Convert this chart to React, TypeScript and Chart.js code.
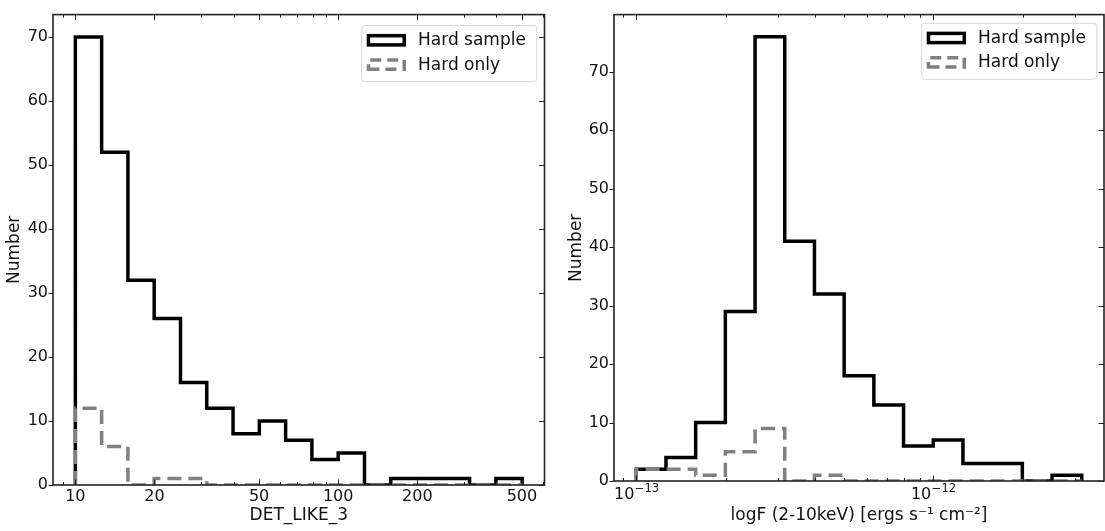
import React, { useEffect, useRef } from 'react';
import { Chart, registerables } from 'chart.js';

Chart.register(...registerables);

// ---------- Left panel: DET_LIKE_3 ----------
const detEdges = [10, 12.59, 15.85, 19.95, 25.12, 31.62, 39.81, 50.12, 63.1, 79.43, 100, 125.9, 158.5, 199.5, 251.2, 316.2, 398.1, 501.2];
const detHardSample = [70, 52, 32, 26, 16, 12, 8, 10, 7, 4, 5, 0, 1, 1, 1, 0, 1];
const detHardOnly = [12, 6, 0, 1, 1, 0, 0, 0, 0, 0, 0, 0, 0, 0, 0, 0, 0];
const detMajorTicks = [10, 20, 50, 100, 200, 500];
const detTickLabels = ['10', '20', '50', '100', '200', '500'];
const detMinorTicks = [9, 30, 40, 60, 70, 80, 90, 300, 400, 600];
const detRange = [8.222, 609.5];
const detYMax = 73.5;

// ---------- Right panel: flux ----------
const fluxEdges = [1e-13, 1.259e-13, 1.585e-13, 1.995e-13, 2.512e-13, 3.162e-13, 3.981e-13, 5.012e-13, 6.31e-13, 7.943e-13, 1e-12, 1.259e-12, 1.585e-12, 1.995e-12, 2.512e-12, 3.162e-12];
const fluxHardSample = [2, 4, 10, 29, 76, 41, 32, 18, 13, 6, 7, 3, 3, 0, 1];
const fluxHardOnly = [2, 2, 1, 5, 9, 0, 1, 0, 0, 0, 0, 0, 0, 0, 0];
const fluxMajorTicks = [1e-13, 1e-12];
const fluxTickBase = ['10', '10'];
const fluxTickExp = ['\u221213', '\u221212'];
const fluxMinorTicks = [9e-14, 2e-13, 3e-13, 4e-13, 5e-13, 6e-13, 7e-13, 8e-13, 9e-13, 2e-12, 3e-12];
const fluxRange = [8.414e-14, 3.758e-12];
const fluxYMax = 79.8;

const yTicks = [0, 10, 20, 30, 40, 50, 60, 70];
const legendLabels = ['Hard sample', 'Hard only'];

const FONT = '"DejaVu Sans", "Liberation Sans", sans-serif';
const TEXT = '#111111';
const FRAME = '#222222';

function stepPoints(edges: number[], counts: number[]) {
  const pts: { x: number; y: number }[] = [{ x: edges[0], y: 0 }];
  counts.forEach((c, i) => pts.push({ x: edges[i], y: c }));
  pts.push({ x: edges[edges.length - 1], y: counts[counts.length - 1] });
  pts.push({ x: edges[edges.length - 1], y: 0 });
  return pts;
}

type Cfg = {
  xMajor: number[];
  xMinor: number[];
  legendTop: number;
  legendRight: number;
  supBase?: string[];
  supExp?: string[];
};

function makeDecor(cfg: Cfg) {
  return {
    id: 'decor',
    afterDraw(chart: any) {
      const { ctx, chartArea: a } = chart;
      const xs = chart.scales.x;
      const ys = chart.scales.y;
      ctx.save();
      ctx.strokeStyle = FRAME;
      ctx.lineWidth = 1;
      const line = (x0: number, y0: number, x1: number, y1: number) => {
        ctx.beginPath();
        ctx.moveTo(x0, y0);
        ctx.lineTo(x1, y1);
        ctx.stroke();
      };
      const xTick = (v: number, len: number) => {
        const px = Math.round(xs.getPixelForValue(v)) + 0.5;
        if (px < a.left - 0.5 || px > a.right + 0.5) return;
        line(px, a.bottom, px, a.bottom - len);
        line(px, a.top, px, a.top + len);
      };
      cfg.xMajor.forEach((v) => xTick(v, 5.5));
      cfg.xMinor.forEach((v) => xTick(v, 3));
      yTicks.forEach((v) => {
        const py = Math.round(ys.getPixelForValue(v)) + 0.5;
        line(a.left - 4.5, py, a.left, py);
        line(a.right - 5.5, py, a.right, py);
      });
      // frame
      ctx.lineWidth = 1.6;
      ctx.strokeRect(a.left, a.top, a.right - a.left, a.bottom - a.top);

      // superscript tick labels (10^n)
      if (cfg.supBase && cfg.supExp) {
        ctx.fillStyle = TEXT;
        ctx.textBaseline = 'alphabetic';
        ctx.textAlign = 'left';
        cfg.xMajor.forEach((v, i) => {
          const px = xs.getPixelForValue(v);
          ctx.font = '16px ' + FONT;
          const wb = ctx.measureText(cfg.supBase![i]).width;
          ctx.font = '11.5px ' + FONT;
          const we = ctx.measureText(cfg.supExp![i]).width;
          const x0 = px - (wb + we) / 2;
          ctx.font = '16px ' + FONT;
          ctx.fillText(cfg.supBase![i], x0, a.bottom + 17.5);
          ctx.font = '11.5px ' + FONT;
          ctx.fillText(cfg.supExp![i], x0 + wb + 0.5, a.bottom + 10.8);
        });
      }

      // legend
      const w = 175;
      const h = 56;
      const lx = a.right - cfg.legendRight - w;
      const ly = a.top + cfg.legendTop;
      ctx.beginPath();
      ctx.roundRect(lx, ly, w, h, 3);
      ctx.fillStyle = 'rgba(255,255,255,0.85)';
      ctx.fill();
      ctx.strokeStyle = 'rgba(204,204,204,0.8)';
      ctx.lineWidth = 1;
      ctx.stroke();

      const rows = [ly + 14.7, ly + 39];
      const sw = 39.3;
      const sh = 12.7;
      const lw = 3.5;
      ctx.strokeStyle = '#000000';
      ctx.lineWidth = lw;
      ctx.setLineDash([]);
      ctx.strokeRect(lx + 5 + lw / 2, rows[0] - sh / 2 + lw / 2, sw - lw, sh - lw);
      ctx.strokeStyle = '#808080';
      ctx.setLineDash([11, 6]);
      const gx0 = lx + 5 + lw / 2;
      const gx1 = lx + 5 + sw - lw / 2;
      const gy0 = rows[1] - sh / 2 + lw / 2;
      const gy1 = rows[1] + sh / 2 - lw / 2;
      ctx.beginPath();
      ctx.moveTo(gx0, gy1);
      ctx.lineTo(gx1, gy1);
      ctx.lineTo(gx1, gy0);
      ctx.lineTo(gx0, gy0);
      ctx.closePath();
      ctx.stroke();
      ctx.setLineDash([]);

      ctx.fillStyle = TEXT;
      ctx.font = '17px ' + FONT;
      ctx.textBaseline = 'middle';
      ctx.textAlign = 'left';
      legendLabels.forEach((t, i) => ctx.fillText(t, lx + 56.3, rows[i] + 0.5));
      ctx.restore();
    },
  };
}

type PanelProps = {
  left: number;
  width: number;
  edges: number[];
  sample: number[];
  only: number[];
  range: number[];
  yMax: number;
  major: number[];
  labels?: string[];
  supBase?: string[];
  supExp?: string[];
  minor: number[];
  xTitle: string;
  pad: { top: number; right: number };
  yAxisWidth: number;
  xAxisHeight: number;
  yTitlePad: number;
  xTickPad: number;
  legendTop: number;
  legendRight: number;
};

function Panel(p: PanelProps) {
  const ref = useRef<HTMLCanvasElement>(null);
  useEffect(() => {
    if (!ref.current) return;
    const chart = new Chart(ref.current, {
      type: 'line',
      data: {
        datasets: [
          {
            label: legendLabels[1],
            data: stepPoints(p.edges, p.only),
            borderColor: '#808080',
            borderWidth: 3.5,
            borderDash: [14, 7],
            stepped: 'before',
            pointRadius: 0,
            fill: false,
            borderJoinStyle: 'miter',
            borderCapStyle: 'butt',
            order: 1,
          },
          {
            label: legendLabels[0],
            data: stepPoints(p.edges, p.sample),
            borderColor: '#000000',
            borderWidth: 3.5,
            stepped: 'before',
            pointRadius: 0,
            fill: false,
            borderJoinStyle: 'miter',
            borderCapStyle: 'butt',
            order: 2,
          },
        ],
      },
      options: {
        animation: false,
        responsive: false,
        events: [],
        layout: { padding: { top: p.pad.top, right: p.pad.right, bottom: 0, left: 0 } },
        plugins: { legend: { display: false }, tooltip: { enabled: false } },
        scales: {
          x: {
            type: 'logarithmic',
            position: 'bottom',
            min: p.range[0],
            max: p.range[1],
            grid: { display: false, drawTicks: false },
            border: { display: false },
            afterBuildTicks: (scale: any) => {
              scale.ticks = p.major.map((v) => ({ value: v }));
            },
            afterFit: (scale: any) => {
              scale.height = p.xAxisHeight;
            },
            ticks: {
              display: !!p.labels,
              autoSkip: false,
              maxRotation: 0,
              padding: p.xTickPad,
              color: TEXT,
              font: { family: FONT, size: 16 },
              callback: (_v: any, i: number) => (p.labels ? p.labels[i] : ''),
            },
            title: {
              display: true,
              text: p.xTitle,
              color: TEXT,
              font: { family: FONT, size: 17 },
              padding: { top: 0, bottom: 5 },
            },
          },
          y: {
            type: 'linear',
            min: 0,
            max: p.yMax,
            grid: { display: false, drawTicks: false },
            border: { display: false },
            afterBuildTicks: (scale: any) => {
              scale.ticks = yTicks.map((v) => ({ value: v }));
            },
            afterFit: (scale: any) => {
              scale.width = p.yAxisWidth;
            },
            ticks: {
              padding: 5,
              color: TEXT,
              font: { family: FONT, size: 16 },
              callback: (v: any) => String(v),
            },
            title: {
              display: true,
              text: 'Number',
              color: TEXT,
              font: { family: FONT, size: 17 },
              padding: { top: p.yTitlePad, bottom: 0 },
            },
          },
        },
      } as any,
      plugins: [
        makeDecor({
          xMajor: p.major,
          xMinor: p.minor,
          legendTop: p.legendTop,
          legendRight: p.legendRight,
          supBase: p.supBase,
          supExp: p.supExp,
        }),
      ],
    });
    return () => chart.destroy();
  }, []);
  return (
    <canvas
      ref={ref}
      width={p.width}
      height={531}
      style={{ position: 'absolute', left: p.left, top: 0, width: p.width, height: 531 }}
    />
  );
}

export default function App() {
  return (
    <div style={{ position: 'absolute', left: 0, top: 0, width: 1105, height: 531, background: '#ffffff', overflow: 'hidden' }}>
      <Panel
        left={0}
        width={555}
        edges={detEdges}
        sample={detHardSample}
        only={detHardOnly}
        range={detRange}
        yMax={detYMax}
        major={detMajorTicks}
        labels={detTickLabels}
        minor={detMinorTicks}
        xTitle="DET_LIKE_3"
        pad={{ top: 5, right: 10.5 }}
        yAxisWidth={53}
        xAxisHeight={46}
        yTitlePad={4}
        xTickPad={2}
        legendTop={11}
        legendRight={7.8}
      />
      <Panel
        left={555}
        width={550}
        edges={fluxEdges}
        sample={fluxHardSample}
        only={fluxHardOnly}
        range={fluxRange}
        yMax={fluxYMax}
        major={fluxMajorTicks}
        supBase={fluxTickBase}
        supExp={fluxTickExp}
        minor={fluxMinorTicks}
        xTitle={'logF (2-10keV) [ergs s\u207B\u00B9 cm\u207B\u00B2]'}
        pad={{ top: 3, right: 1 }}
        yAxisWidth={59}
        xAxisHeight={50}
        yTitlePad={11.5}
        xTickPad={1}
        legendTop={8.7}
        legendRight={7.3}
      />
    </div>
  );
}
